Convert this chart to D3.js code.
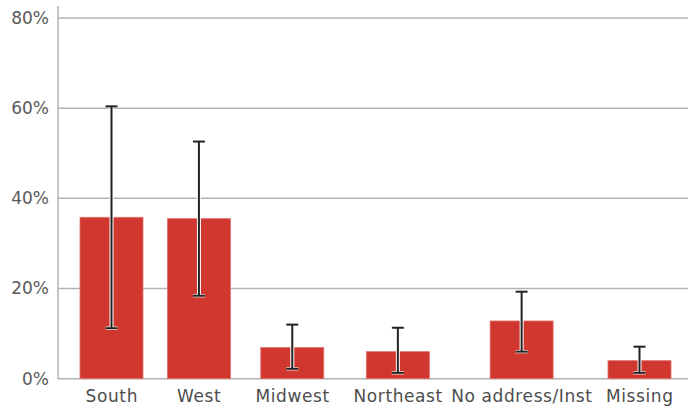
<!DOCTYPE html>
<html><head><meta charset="utf-8">
<script src="https://cdn.jsdelivr.net/npm/d3@7"></script>
<style>body{margin:0;background:#fff}svg{display:block}</style>
</head><body>
<svg id="c" width="688" height="406"></svg>
<script>
const categories = ["South","West","Midwest","Northeast","No address/Inst","Missing"];
const values = [35.8, 35.5, 6.9, 6.0, 12.8, 4.0];
const errLow = [11.2, 18.4, 2.2, 1.3, 6.0, 1.3];
const errHigh = [60.4, 52.6, 12.0, 11.3, 19.3, 7.1];
const yTicks = [0, 20, 40, 60, 80];

const W = 688, H = 406;
const m = {left: 58, right: 0, top: 6, bottom: 27};
const svg = d3.select("#c");
const font = "'DejaVu Sans', sans-serif";
const ls = 0.6;

const y = d3.scaleLinear().domain([0, 80]).range([378.7, 18]);

// gridlines
svg.append("g").selectAll("line").data(yTicks.filter(d => d > 0)).join("line")
  .attr("x1", m.left).attr("x2", W).attr("y1", d => y(d)).attr("y2", d => y(d))
  .attr("stroke", "#b3b3b3").attr("stroke-width", 1.5);

// y axis
const yAxis = svg.append("g").attr("transform", `translate(${m.left},0)`)
  .call(d3.axisLeft(y).tickValues(yTicks).tickFormat(d => d + "%").tickSize(0).tickPadding(9));
yAxis.select(".domain").remove();
yAxis.selectAll("text").attr("font-family", font).attr("font-size", 17).attr("fill", "#5a5a5a");
svg.append("line").attr("x1", m.left).attr("x2", m.left).attr("y1", m.top).attr("y2", y(0))
  .attr("stroke", "#b3b3b3").attr("stroke-width", 1.5);

// measure label widths to lay out uneven category positions
const meas = svg.append("g");
const widths = categories.map(c => {
  const t = meas.append("text").attr("font-family", font).attr("font-size", 17)
    .attr("letter-spacing", ls).text(c);
  const w = t.node().getBBox().width; t.remove(); return w;
});
meas.remove();
const cum = [0];
for (let i = 1; i < categories.length; i++) {
  cum.push(cum[i-1] + 61 + 0.54 * (widths[i-1] + widths[i]) / 2);
}
const pos = d3.scaleLinear().domain([0, cum[cum.length-1]]).range([111.5, 639.5]);
const cx = d3.scaleOrdinal().domain(categories).range(cum.map(v => pos(v)));
const barW = 63;

// baseline
svg.append("line").attr("x1", m.left).attr("x2", W).attr("y1", y(0)).attr("y2", y(0))
  .attr("stroke", "#b3b3b3").attr("stroke-width", 1.5);

// bars
svg.append("g").selectAll("rect").data(categories).join("rect")
  .attr("x", d => cx(d) - barW/2).attr("width", barW)
  .attr("y", (d,i) => y(values[i])).attr("height", (d,i) => y(0) - y(values[i]))
  .attr("fill", "#d0372f").attr("stroke", "#e2726b").attr("stroke-width", 0.8);

// error bars
const eg = svg.append("g");
categories.forEach((c, i) => {
  const x0 = cx(c);
  const g = eg.append("g");
  [["#ffffff", 4, 3.2], ["#222222", 2, 2]].forEach(([col, sw, capW]) => {
    g.append("line").attr("x1", x0).attr("x2", x0).attr("y1", y(errHigh[i])).attr("y2", y(errLow[i]))
      .attr("stroke", col).attr("stroke-width", sw);
    [errHigh[i], errLow[i]].forEach(v => {
      g.append("line").attr("x1", x0 - 6).attr("x2", x0 + 6).attr("y1", y(v)).attr("y2", y(v))
        .attr("stroke", col).attr("stroke-width", capW);
    });
  });
});

// x labels
svg.append("g").selectAll("text").data(categories).join("text")
  .attr("x", d => cx(d) + ls / 2).attr("y", 402).attr("text-anchor", "middle")
  .attr("font-family", font).attr("font-size", 17).attr("letter-spacing", ls)
  .attr("fill", "#4d4d4d").text(d => d);
</script>
</body></html>
